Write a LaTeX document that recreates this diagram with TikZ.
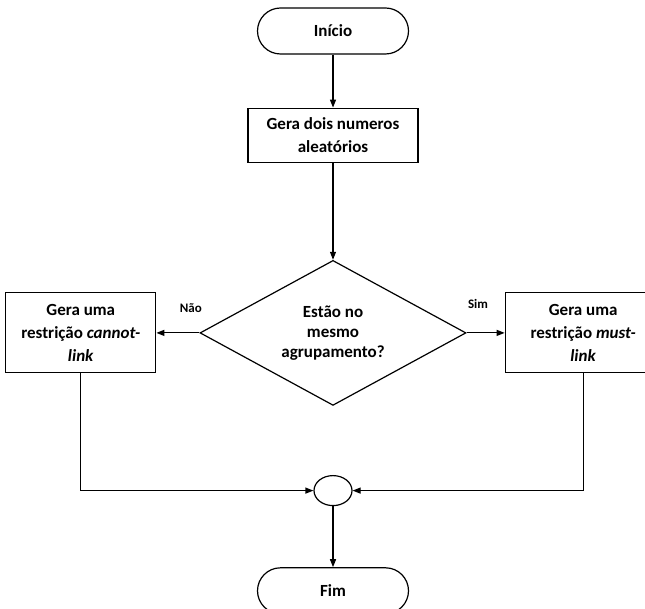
\documentclass[tikz,border=0pt]{standalone}
\usepackage{fontspec}
\setmainfont{Carlito}
\usepackage{tikz}
\usetikzlibrary{positioning, shapes.geometric, arrows.meta}

\begin{document}
\begin{tikzpicture}[x=1pt,y=1pt,line width=1.2pt,
    every node/.style={font=\bfseries\fontsize{17}{23}\selectfont, align=center},
    terminal/.style={draw, rounded corners=23pt, minimum width=151pt, minimum height=46pt},
    process/.style={draw, minimum width=150pt, minimum height=80pt},
    decision/.style={draw, diamond, shape aspect=1.83, minimum width=266pt, minimum height=145pt, inner sep=0pt,
        font=\bfseries\fontsize{17}{20}\selectfont},
    answer/.style={font=\bfseries\fontsize{13}{15}\selectfont},
    arrow/.style={-{Triangle[length=8pt,width=6pt]}}]
    \clip (0,0) rectangle (645,-609);
    \path[use as bounding box] (0,0) rectangle (645,-609);
    \node[terminal] (start) at (333,-31) {Início};
    \node[process, minimum width=170pt, minimum height=54pt] (gen) [below=53pt of start] {Gera dois numeros\\aleatórios};
    \node[decision] (dec) [below=97pt of gen] {Estão no\\mesmo\\agrupamento?};
    \node[process] (cannot) [left=43pt of dec] {Gera uma\\restrição \textit{cannot-}\\\textit{link}};
    \node[process, minimum width=156pt] (must) [right=38pt of dec] {Gera uma\\restrição \textit{must-}\\\textit{link}};
    \node[draw, ellipse, minimum width=38pt, minimum height=30pt, inner sep=0pt] (join) [below=69pt of dec] {};
    \node[terminal] (end) [below=61pt of join] {Fim};
    \draw[arrow] (start) -- (gen);
    \draw[arrow] (gen) -- (dec);
    \draw[arrow] (dec.west) -- node[answer, pos=0.2, above=16pt] {Não} (cannot.east);
    \draw[arrow] (dec.east) -- node[answer, pos=0.3, above=20pt] {Sim} (must.west);
    \draw[arrow] (cannot.south) |- (join.west);
    \draw[arrow] (must.south) |- (join.east);
    \draw[arrow] (join) -- (end);
\end{tikzpicture}
\end{document}
